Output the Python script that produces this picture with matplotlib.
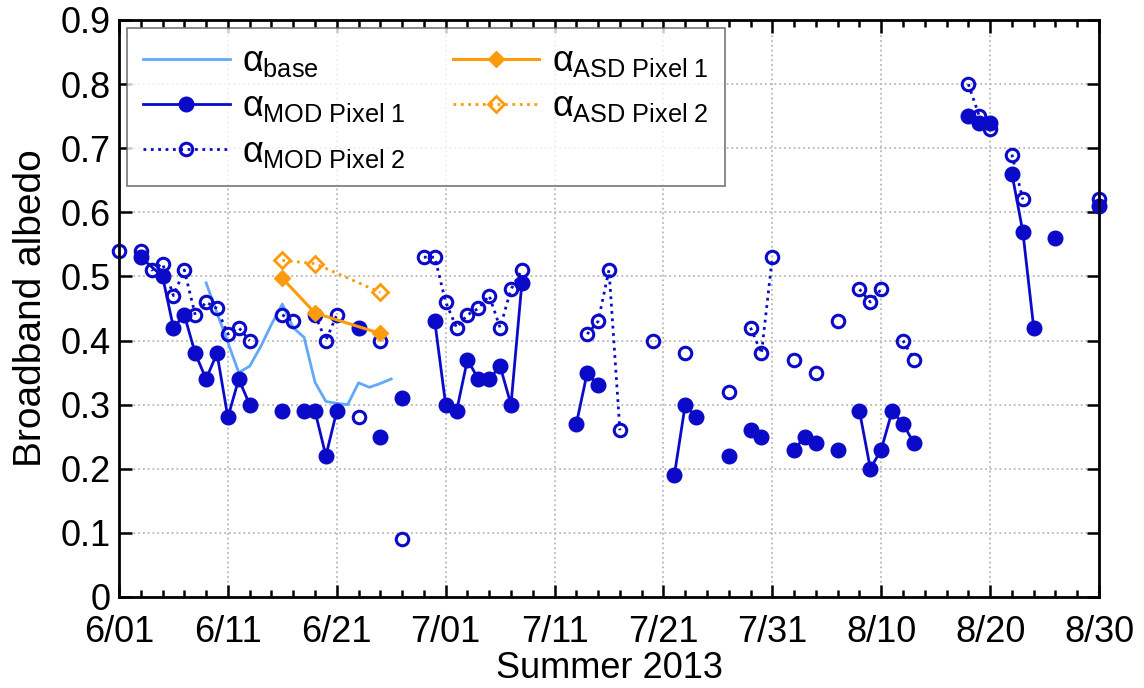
import numpy as np
import pandas as pd
import matplotlib
matplotlib.use("Agg")
import matplotlib.pyplot as plt
import matplotlib.dates as mdates

plt.rcParams['font.family'] = ['Liberation Sans', 'DejaVu Sans']
plt.rcParams['mathtext.fontset'] = 'custom'
plt.rcParams['mathtext.rm'] = 'Liberation Sans'
plt.rcParams['mathtext.it'] = 'Liberation Sans'

nan = np.nan

# baseline albedo
base_dates = ['2013-06-09', '2013-06-10', '2013-06-11', '2013-06-12', '2013-06-13',
              '2013-06-14', '2013-06-15', '2013-06-16', '2013-06-17', '2013-06-18',
              '2013-06-19', '2013-06-20', '2013-06-21', '2013-06-22', '2013-06-23',
              '2013-06-24', '2013-06-25', '2013-06-26']
base_vals = [0.49, 0.443, 0.397, 0.35, 0.36, 0.39, 0.425, 0.457, 0.42, 0.405,
             0.335, 0.305, 0.302, 0.30, 0.334, 0.327, 0.333, 0.34]

# MODIS pixel 1 (nan breaks the line)
mod1_dates = ['2013-06-03', '2013-06-05', '2013-06-06', '2013-06-07', '2013-06-08',
              '2013-06-09', '2013-06-10', '2013-06-11', '2013-06-12', '2013-06-13',
              '2013-06-14',
              '2013-06-16', '2013-06-17',
              '2013-06-18', '2013-06-19', '2013-06-20', '2013-06-21', '2013-06-22',
              '2013-06-23', '2013-06-24',
              '2013-06-25', '2013-06-26',
              '2013-06-27', '2013-06-28',
              '2013-06-30', '2013-07-01', '2013-07-02', '2013-07-03', '2013-07-04',
              '2013-07-05', '2013-07-06', '2013-07-07', '2013-07-08', '2013-07-09',
              '2013-07-13', '2013-07-14', '2013-07-15', '2013-07-16',
              '2013-07-22', '2013-07-23', '2013-07-24', '2013-07-25',
              '2013-07-27', '2013-07-28',
              '2013-07-29', '2013-07-30', '2013-07-31',
              '2013-08-02', '2013-08-03', '2013-08-04', '2013-08-05',
              '2013-08-06', '2013-08-07',
              '2013-08-08', '2013-08-09', '2013-08-10', '2013-08-11', '2013-08-12',
              '2013-08-13', '2013-08-14',
              '2013-08-18', '2013-08-19', '2013-08-20', '2013-08-21',
              '2013-08-22', '2013-08-23', '2013-08-24', '2013-08-25',
              '2013-08-26', '2013-08-27',
              '2013-08-30']
mod1_vals = [0.53, 0.50, 0.42, 0.44, 0.38, 0.34, 0.38, 0.28, 0.34, 0.30,
             nan,
             0.29, nan,
             0.29, 0.29, 0.22, 0.29, nan,
             0.42, nan,
             0.25, nan,
             0.31, nan,
             0.43, 0.30, 0.29, 0.37, 0.34, 0.34, 0.36, 0.30, 0.49, nan,
             0.27, 0.35, 0.33, nan,
             0.19, 0.30, 0.28, nan,
             0.22, nan,
             0.26, 0.25, nan,
             0.23, 0.25, 0.24, nan,
             0.23, nan,
             0.29, 0.20, 0.23, 0.29, 0.27, 0.24, nan,
             0.75, 0.74, 0.74, nan,
             0.66, 0.57, 0.42, nan,
             0.56, nan,
             0.61]

# MODIS pixel 2
mod2_dates = ['2013-06-01', '2013-06-02',
              '2013-06-03', '2013-06-04', '2013-06-05', '2013-06-06', '2013-06-07',
              '2013-06-08', '2013-06-09', '2013-06-10', '2013-06-11', '2013-06-12',
              '2013-06-13', '2013-06-14',
              '2013-06-16', '2013-06-17', '2013-06-18',
              '2013-06-19', '2013-06-20', '2013-06-21', '2013-06-22',
              '2013-06-23', '2013-06-24',
              '2013-06-25', '2013-06-26',
              '2013-06-27', '2013-06-28',
              '2013-06-29', '2013-06-30', '2013-07-01', '2013-07-02', '2013-07-03',
              '2013-07-04', '2013-07-05', '2013-07-06', '2013-07-07', '2013-07-08',
              '2013-07-09',
              '2013-07-14', '2013-07-15', '2013-07-16', '2013-07-17', '2013-07-18',
              '2013-07-20', '2013-07-21',
              '2013-07-23', '2013-07-24',
              '2013-07-27', '2013-07-28',
              '2013-07-29', '2013-07-30', '2013-07-31', '2013-08-01',
              '2013-08-02', '2013-08-03',
              '2013-08-04', '2013-08-05',
              '2013-08-06', '2013-08-07',
              '2013-08-08', '2013-08-09', '2013-08-10', '2013-08-11',
              '2013-08-12', '2013-08-13', '2013-08-14',
              '2013-08-18', '2013-08-19', '2013-08-20', '2013-08-21',
              '2013-08-22', '2013-08-23', '2013-08-24',
              '2013-08-30']
mod2_vals = [0.54, nan,
             0.54, 0.51, 0.52, 0.47, 0.51, 0.44, 0.46, 0.45, 0.41, 0.42, 0.40, nan,
             0.44, 0.43, nan,
             0.44, 0.40, 0.44, nan,
             0.28, nan,
             0.40, nan,
             0.09, nan,
             0.53, 0.53, 0.46, 0.42, 0.44, 0.45, 0.47, 0.42, 0.48, 0.51, nan,
             0.41, 0.43, 0.51, 0.26, nan,
             0.40, nan,
             0.38, nan,
             0.32, nan,
             0.42, 0.38, 0.53, nan,
             0.37, nan,
             0.35, nan,
             0.43, nan,
             0.48, 0.46, 0.48, nan,
             0.40, 0.37, nan,
             0.80, 0.75, 0.73, nan,
             0.69, 0.62, nan,
             0.62]

# ASD field spectrometer
asd_dates = ['2013-06-16', '2013-06-19', '2013-06-25']
asd1_vals = [0.497, 0.443, 0.411]
asd2_vals = [0.525, 0.520, 0.475]

x_ticks = ['2013-06-01', '2013-06-11', '2013-06-21', '2013-07-01', '2013-07-11',
           '2013-07-21', '2013-07-31', '2013-08-10', '2013-08-20', '2013-08-30']
x_ticklabels = ['6/01', '6/11', '6/21', '7/01', '7/11', '7/21', '7/31',
                '8/10', '8/20', '8/30']
y_ticks = [0, 0.1, 0.2, 0.3, 0.4, 0.5, 0.6, 0.7, 0.8, 0.9]
y_ticklabels = ['0', '0.1', '0.2', '0.3', '0.4', '0.5', '0.6', '0.7', '0.8', '0.9']

c_mod = '#0a0ac8'
c_base = '#62a8f8'
c_asd = '#ff9a0a'

fig = plt.figure(figsize=(11.44, 6.88), dpi=100)
ax = fig.add_axes([0.104, 0.1323, 0.8567, 0.8387])

ax.plot(pd.to_datetime(base_dates), base_vals, color=c_base, lw=2,
        label=r'$\alpha_{\mathrm{base}}$')
ax.plot(pd.to_datetime(mod1_dates), mod1_vals, color=c_mod, lw=2, marker='o',
        ms=10.5, mfc=c_mod, mec=c_mod, label=r'$\alpha_{\mathrm{MOD\ Pixel\ 1}}$',
        clip_on=False)
ax.plot(pd.to_datetime(mod2_dates), mod2_vals, color=c_mod, lw=2, ls=':',
        marker='o', ms=9, mfc='none', mec=c_mod, mew=2.2,
        label=r'$\alpha_{\mathrm{MOD\ Pixel\ 2}}$', clip_on=False)
ax.plot(pd.to_datetime(asd_dates), asd1_vals, color=c_asd, lw=2.2, marker='D',
        ms=8, mfc=c_asd, mec=c_asd, label=r'$\alpha_{\mathrm{ASD\ Pixel\ 1}}$')
ax.plot(pd.to_datetime(asd_dates), asd2_vals, color=c_asd, lw=2, ls=':',
        marker='D', ms=8, mfc='none', mec=c_asd, mew=2,
        label=r'$\alpha_{\mathrm{ASD\ Pixel\ 2}}$')

ax.set_xlim(pd.Timestamp('2013-06-01'), pd.Timestamp('2013-08-30'))
ax.set_ylim(0, 0.9)
ax.set_xticks(pd.to_datetime(x_ticks))
ax.set_xticklabels(x_ticklabels)
ax.xaxis.set_minor_locator(mdates.DayLocator(interval=2))
ax.set_yticks(y_ticks)
ax.set_yticklabels(y_ticklabels)

ax.tick_params(which='both', direction='in', top=True, right=True,
               labelsize=26, width=1.8)
ax.tick_params(axis='x', pad=13)
ax.tick_params(axis='y', pad=6)
ax.tick_params(which='major', length=9)
ax.tick_params(which='minor', length=5, left=False, right=False)
for s in ax.spines.values():
    s.set_linewidth(2)

ax.grid(True, which='major', color='#b8b8b8', ls=':', lw=1.3)
ax.set_axisbelow(True)

ax.set_xlabel('Summer 2013', fontsize=26, labelpad=1)
ax.set_ylabel('Broadband albedo', fontsize=28, labelpad=8)

leg = ax.legend(loc='upper left', bbox_to_anchor=(0.008, 0.986), ncol=2,
                fontsize=26, frameon=True, fancybox=False, borderaxespad=0,
                handlelength=2.4, handletextpad=0.35, columnspacing=1.3,
                labelspacing=0.28, borderpad=0.45)
leg.get_frame().set_edgecolor('#555555')
leg.get_frame().set_linewidth(1.2)
leg.set_zorder(5)

fig.savefig('out.png', dpi=100)
